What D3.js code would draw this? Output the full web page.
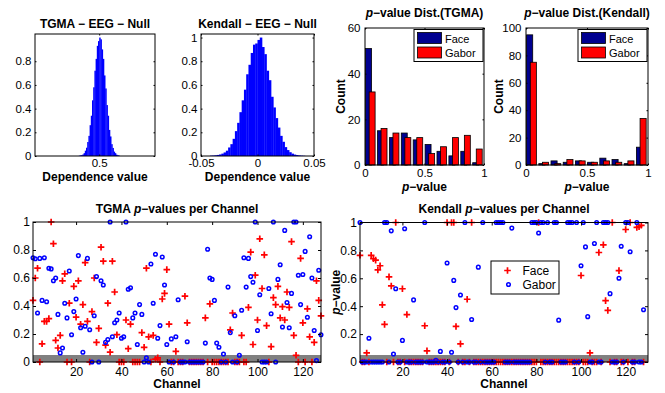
<!DOCTYPE html>
<html>
<head>
<meta charset="utf-8">
<script src="https://cdn.jsdelivr.net/npm/d3@7"></script>
<style>
  body { margin: 0; background: #fff; }
  text { font-family: "Liberation Sans", Arial, Helvetica, sans-serif; fill: #000; }
</style>
</head>
<body>
<svg id="fig" width="665" height="393"></svg>
<script>
const FONT = '"Liberation Sans", Arial, Helvetica, sans-serif';

// null distributions (normalised histograms)
const tgmaNullStart = 0.466, tgmaNullStep = 0.002;
const tgmaNullHeights = [0.003,0.005,0.008,0.013,0.024,0.045,0.07,0.118,0.17,0.26,0.34,0.47,0.58,0.72,0.82,0.93,0.97,1.0,
  0.985,0.9,0.82,0.68,0.57,0.43,0.34,0.22,0.165,0.1,0.068,0.037,0.024,0.011,0.007,0.003];
const kendallNullStart = -0.042, kendallNullStep = 0.002;
const kendallNullHeights = [0.003,0.004,0.006,0.009,0.013,0.02,0.03,0.045,0.072,0.1,0.145,0.21,0.28,0.37,0.47,0.56,0.69,
  0.77,0.87,0.94,0.95,0.98,1.0,0.92,0.86,0.72,0.64,0.5,0.41,0.32,0.24,0.17,0.12,0.075,0.05,0.032,0.02,0.012,0.008,0.005,0.003,0.002];

// p-value histograms
const pBinCenters = [0.05,0.15,0.25,0.35,0.45,0.55,0.65,0.75,0.85,0.95];
const tgmaFaceCounts = [51,15,12,14,11,9,6,4,6,1];
const tgmaGaborCounts = [32,16,14,12,12,5,8,12,13,7];
const kendallFaceCounts = [95,1,3,2,3,2,5,4,1,13];
const kendallGaborCounts = [75,2,1,4,3,2,3,2,3,34];
const seriesNames = ["Face", "Gabor"];

// p-values per channel (channel 1..128)
const tgmaFace = [
  0.44,0.60,0.67,0,0.13,0.29,0.29,0.31,1.0,0.845,0.155,0.10,0.19,0.58,0.63,0,
  0.42,0,0.54,0.32,0.58,0.27,0.41,0.71,0.29,0,0.36,0.60,0.14,0.24,0.82,0.72,
  0.12,0.42,0.07,0.72,0.50,0.195,0,0,0,0.30,0.095,0.27,0,0,0,0,
  0.21,0.105,0.67,0.18,0,0.19,0.02,0.03,0,0.45,0.49,0.66,0.27,0,0,0.076,
  0,0,0,0.47,0.28,0,0,0,0,0,0,0,0.315,0,0.415,0,
  0,0,0,0,0,0,0,0.23,0.35,0,0,0,0.19,0,0,0.39,
  0.785,0.125,0.62,0.30,0.88,0.525,0.765,0.26,0,0.11,0.46,0.41,0.54,0.315,0.395,0.30,
  0.50,0.39,0.86,0.19,0.048,0,0.74,0.28,0,0.38,0.18,0,0.14,0.58,0.44,0.33];
const tgmaGabor = [
  0.745,0.738,0.35,0.74,0.44,0.745,0.43,0.67,0.665,0.58,0.60,0.34,0.065,0.10,0.42,0.315,
  0.65,0.195,0.36,0.45,0.76,0.245,0.07,0.255,0.74,0.23,0,0.33,0.61,0,0.58,0.55,
  0.14,0.16,1.0,0.18,0.28,0.30,0.35,0.17,0.18,1.0,0.52,0.53,0.315,0.35,0.125,0.41,
  0.34,0,0.03,0,0.70,0.42,0.77,0.17,0.26,0.75,0.55,0.125,0,0.165,0,0.18,
  0.445,0,0,0,0.145,0,0,0,0,0,0,0,0.135,0.805,0.60,0.59,
  0.44,0.135,0.105,0,0.057,0,0.535,0.21,0,0.33,0,0.048,0.37,0.745,0.535,0.74,
  0.61,0.57,1.0,0.225,0.48,0,0,0,0.525,0.345,1.0,0,0.59,0.695,0.25,0.94,
  0.425,0.245,0.49,1.0,1.0,0.62,0.41,0.625,0.79,0.32,0.895,0.60,0.225,0.01,0.655,0.195];
const kendallFace = [
  0.765,0,0,0.065,0,0.765,0.74,0.73,0.66,0.69,0.41,0.27,0,0.61,0.545,0,
  1,0,0,0.525,0,0.34,0,0,0,0,0,0,0,0.26,0.08,0,
  0,0,0,0,0,0,0,1,0,1,1,0.255,0,0.13,0,0,
  0.45,0,1,0,0,0,0,0,0,0,0,0,0,0,0,0,
  0,0,0,0,0,0,0,0,0,0,0,0,0,0,0,0,
  1,0,0,0,0,0,0,0,0,0,0,0,0,0,0,0,
  0,0,0,0.62,0,0,0,0.065,0,0,0,0.785,0,0.84,0.44,0.37,
  0,1,0,0,0.655,0,0,0.95,0,1,0,0,0.965,0.97,0.98,0];
const kendallGabor = [
  1,0,0,0,0.17,0,0,0,0,0,0,1,1,0,0.94,0.057,
  0.525,0,0,0.155,0.955,0,0,0,0.445,0,0,0,0,1,0,0,
  0,0,0.012,0,0.076,0,0,0.71,0,0.07,0.585,0.39,0,0.48,0,1,
  0,0,0.305,0,0,0.68,0,1,0,0,0,0,0,1,1,1,
  1,0,0,0,0.96,0,0,0,0,0,0,0,0,1,1,1,
  0.925,1,1,0,1,0,0,1,1,0.30,0,0,0,1,1,1,
  0,1,0,0.69,1,0.825,0.325,0,0,0.85,1,0,0,1,1,1,
  0.49,0,0,0,0.60,0.83,0,1,1,0.79,0,0,1,0,0,0.375];

const svg = d3.select("#fig");

// MATLAB-like box with inward ticks on all four sides
function frame(g, x, y, xt, yt, o) {
  const [l, r] = x.range(), [b, t] = y.range();
  g.append("g").attr("transform", `translate(0,${b})`)
    .call(d3.axisBottom(x).tickValues(xt).tickFormat(String).tickSize(-o.tick).tickSizeOuter(0).tickPadding(o.xpad));
  g.append("g").attr("transform", `translate(0,${t})`)
    .call(d3.axisTop(x).tickValues(xt).tickFormat("").tickSize(-o.tick).tickSizeOuter(0));
  g.append("g").attr("transform", `translate(${l},0)`)
    .call(d3.axisLeft(y).tickValues(yt).tickFormat(String).tickSize(-o.tick).tickSizeOuter(0).tickPadding(o.ypad));
  g.append("g").attr("transform", `translate(${r},0)`)
    .call(d3.axisRight(y).tickValues(yt).tickFormat("").tickSize(-o.tick).tickSizeOuter(0));
  g.selectAll(".domain").remove();
  g.selectAll(".tick line").attr("stroke", "#000");
  g.selectAll(".tick text").attr("font-family", FONT).attr("font-size", o.fs).attr("fill", "#000");
  g.append("rect").attr("x", l).attr("y", t).attr("width", r - l).attr("height", b - t)
    .attr("fill", "none").attr("stroke", "#000").attr("stroke-width", 1);
}

// text with an italic "p" where needed: parts = [[str, italic], ...]
function label(g, x, y, parts, size, rotate) {
  const t = g.append("text").attr("text-anchor", "middle").attr("font-weight", "bold")
    .attr("font-size", size)
    .attr("transform", `translate(${x},${y})` + (rotate ? " rotate(-90)" : ""));
  parts.forEach(([s, it]) => t.append("tspan").text(s).attr("font-style", it ? "italic" : "normal"));
  return t;
}

// ---- top row: null distributions ----
function nullPanel(box, domain, start, step, heights, xt, yt, title) {
  const g = svg.append("g");
  const x = d3.scaleLinear().domain(domain).range([box.l, box.r]);
  const y = d3.scaleLinear().domain([0, 1.03]).range([box.b, box.t]);
  const bw = x(start + step) - x(start);
  g.selectAll("rect.bin").data(heights).join("rect").attr("class", "bin")
    .attr("x", (d, i) => x(start + i * step)).attr("width", bw + 0.3)
    .attr("y", d => y(d)).attr("height", d => y(0) - y(d)).attr("fill", "#0000ff");
  frame(g, x, y, xt, yt, {tick: 1.5, xpad: 3, ypad: 3.5, fs: 11.5});
  const cx = (box.l + box.r) / 2;
  label(g, cx, 27.5, [[title, false]], 12);
  label(g, cx, 180.5, [["Dependence value", false]], 12);
}
nullPanel({l: 35, r: 155, t: 34, b: 156}, [0.393, 0.593], tgmaNullStart, tgmaNullStep, tgmaNullHeights,
  [0.5], [0, 0.2, 0.4, 0.6, 0.8], "TGMA \u2212 EEG \u2212 Null");
nullPanel({l: 201, r: 314, t: 34, b: 156}, [-0.05, 0.05], kendallNullStart, kendallNullStep, kendallNullHeights,
  [-0.05, 0, 0.05], [0, 0.2, 0.4, 0.6, 0.8, 1], "Kendall \u2212 EEG \u2212 Null");

// ---- top row: p-value distributions ----
const barColors = ["#000090", "#ff0000"];
const barSpan = [[-0.045, 0.005], [-0.015, 0.035]];
function distPanel(box, counts, ymax, yt, method) {
  const g = svg.append("g");
  const x = d3.scaleLinear().domain([0, 1]).range([box.l, box.r]);
  const y = d3.scaleLinear().domain([0, ymax]).range([box.b, box.t]);
  counts.forEach((c, s) => {
    g.selectAll(`rect.s${s}`).data(c).join("rect").attr("class", `s${s}`)
      .attr("x", (d, i) => x(pBinCenters[i] + barSpan[s][0]))
      .attr("width", (d, i) => x(pBinCenters[i] + barSpan[s][1]) - x(pBinCenters[i] + barSpan[s][0]))
      .attr("y", d => y(d)).attr("height", d => y(0) - y(d))
      .attr("fill", barColors[s]).attr("stroke", "#000").attr("stroke-width", 0.8);
  });
  frame(g, x, y, [0, 0.5, 1], yt, {tick: 1.5, xpad: 4, ypad: 4.5, fs: 11.5});
  const cx = (box.l + box.r) / 2;
  label(g, cx, 17, [["p", true], ["\u2212value Dist.(" + method + ")", false]], 12);
  label(g, cx, 190.5, [["p", true], ["\u2212value", false]], 12);
  label(g, box.ylab, (box.t + box.b) / 2, [["Count", false]], 12, true);
  // legend
  const lx = box.r - 70, ly = box.t + 1.5;
  g.append("rect").attr("x", lx).attr("y", ly).attr("width", 69).attr("height", 32)
    .attr("fill", "#fff").attr("stroke", "#000");
  seriesNames.forEach((n, s) => {
    g.append("rect").attr("x", lx + 3.5).attr("y", ly + 3 + s * 14.5).attr("width", 24).attr("height", 11)
      .attr("fill", barColors[s]).attr("stroke", "#000").attr("stroke-width", 0.8);
    g.append("text").attr("x", lx + 31).attr("y", ly + 13.5 + s * 13.5).attr("font-size", 11).text(n);
  });
}
distPanel({l: 365, r: 484, t: 28, b: 165, ylab: 345}, [tgmaFaceCounts, tgmaGaborCounts], 60, [0, 20, 40, 60], "TGMA");
distPanel({l: 526, r: 648, t: 28, b: 165, ylab: 503}, [kendallFaceCounts, kendallGaborCounts], 100, [0, 20, 40, 60, 80, 100], "Kendall");

// ---- bottom row: p-values per channel ----
const plusPath = "M-3.3,0H3.3M0,-3.3V3.3";
function channelPanel(box, xmax, face, gabor, method, withLegend) {
  const g = svg.append("g");
  const x = d3.scaleLinear().domain([1, xmax]).range([box.l, box.r]);
  const y = d3.scaleLinear().domain([0, 1]).range([box.b, box.t]);
  g.append("rect").attr("x", box.l).attr("width", box.r - box.l)
    .attr("y", y(0.05)).attr("height", y(0) - y(0.05)).attr("fill", "#808080");
  g.selectAll("path.face").data(face).join("path").attr("class", "face")
    .attr("d", plusPath).attr("transform", (d, i) => `translate(${x(i + 1)},${y(d)})`)
    .attr("stroke", "#ff0000").attr("stroke-width", 1.7).attr("fill", "none");
  g.selectAll("circle.gabor").data(gabor).join("circle").attr("class", "gabor")
    .attr("cx", (d, i) => x(i + 1)).attr("cy", d => y(d)).attr("r", 1.8)
    .attr("stroke", "#0000ff").attr("stroke-width", 1.5).attr("fill", "none");
  frame(g, x, y, [20, 40, 60, 80, 100, 120], [0, 0.2, 0.4, 0.6, 0.8, 1], {tick: 3, xpad: 5, ypad: 3, fs: 12});
  const cx = (box.l + box.r) / 2;
  label(g, cx, 213, [[method + " ", false], ["p", true], ["\u2212values per Channel", false]], 12);
  label(g, cx, 388, [["Channel", false]], 12);
  if (withLegend) {
    label(g, 340, (box.t + box.b) / 2, [["p", true], ["\u2212value", false]], 12, true);
    const lx = 491, ly = 261;
    g.append("rect").attr("x", lx).attr("y", ly).attr("width", 68).attr("height", 33)
      .attr("fill", "#fff").attr("stroke", "#000");
    g.append("path").attr("d", plusPath).attr("transform", `translate(${lx + 16.5},${ly + 9.5})`)
      .attr("stroke", "#ff0000").attr("stroke-width", 1.7);
    g.append("circle").attr("cx", lx + 17.5).attr("cy", ly + 23.5).attr("r", 1.8)
      .attr("stroke", "#0000ff").attr("stroke-width", 1.5).attr("fill", "none");
    g.append("text").attr("x", lx + 31.5).attr("y", ly + 13.5).attr("font-size", 12).text(seriesNames[0]);
    g.append("text").attr("x", lx + 31.5).attr("y", ly + 28).attr("font-size", 12).text(seriesNames[1]);
  }
}
channelPanel({l: 33, r: 321, t: 222, b: 362}, 128, tgmaFace, tgmaGabor, "TGMA", false);
channelPanel({l: 360, r: 648, t: 222.5, b: 362}, 130, kendallFace, kendallGabor, "Kendall", true);
</script>
</body>
</html>
